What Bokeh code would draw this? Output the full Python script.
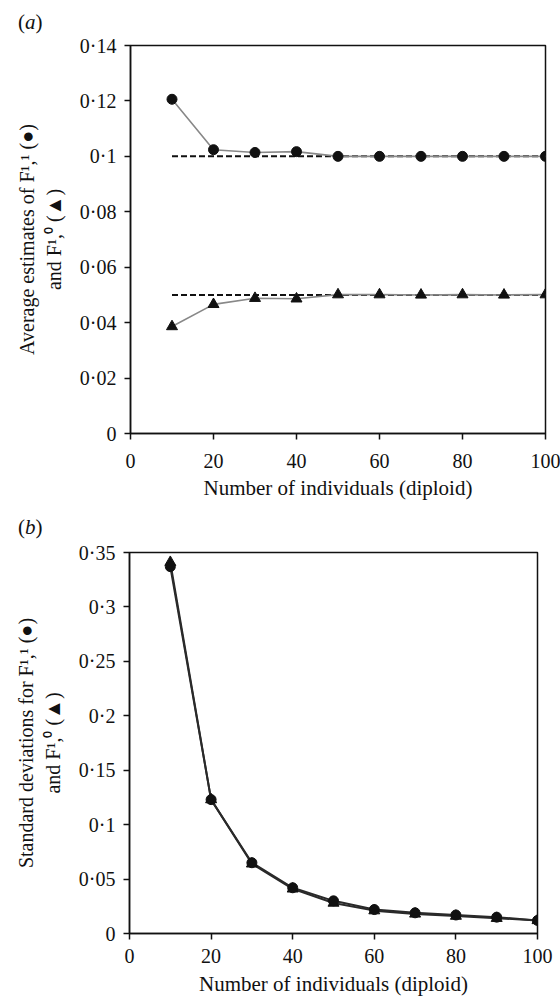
from bokeh.plotting import figure
from bokeh.layouts import column
from bokeh.models import FixedTicker, Range1d, Div
from bokeh.embed import file_html
from bokeh.resources import INLINE

# ---------------- data ----------------
n_individuals = [10, 20, 30, 40, 50, 60, 70, 80, 90, 100]

# panel (a): average estimates
avg_f11 = [0.1206, 0.1024, 0.1014, 0.1017, 0.1000, 0.1000, 0.1000, 0.1000, 0.1000, 0.1000]
avg_f10 = [0.0386, 0.0466, 0.0488, 0.0486, 0.0501, 0.0501, 0.0500, 0.0501, 0.0500, 0.0501]
true_f11 = [0.1, 0.1]
true_f10 = [0.05, 0.05]
true_x = [10, 100]

# panel (b): standard deviations
sd_f11 = [0.337, 0.123, 0.065, 0.042, 0.030, 0.022, 0.019, 0.017, 0.015, 0.012]
sd_f10 = [0.341, 0.123, 0.064, 0.041, 0.028, 0.021, 0.018, 0.016, 0.014, 0.012]

x_ticks = [0, 20, 40, 60, 80, 100]
a_y_ticks = [0, 0.02, 0.04, 0.06, 0.08, 0.1, 0.12, 0.14]
a_y_labels = ["0", "0·02", "0·04", "0·06", "0·08", "0·1", "0·12", "0·14"]
b_y_ticks = [0, 0.05, 0.1, 0.15, 0.2, 0.25, 0.3, 0.35]
b_y_labels = ["0", "0·05", "0·1", "0·15", "0·2", "0·25", "0·3", "0·35"]

x_title = "Number of individuals (diploid)"
a_y_title = "Average estimates of F¹,¹ (●)\nand F¹,⁰ (▲)"
b_y_title = "Standard deviations for F¹,¹ (●)\nand F¹,⁰ (▲)"
a_panel = "(<i>a</i>)"
b_panel = "(<i>b</i>)"

FONT = "Liberation Serif"
INK = "#111111"


def panel_div(text):
    return Div(text=text, width=80, height=24, margin=(10, 0, 0, 18),
               styles={"font-family": FONT, "font-size": "21px", "line-height": "24px",
                       "color": INK})


def style(p, yticks, ylabels, ytitle, lab_standoff, title_standoff):
    p.xgrid.visible = False
    p.ygrid.visible = False
    p.outline_line_color = INK
    p.outline_line_width = 1.5
    p.background_fill_color = "white"
    p.border_fill_color = "white"
    for ax in (p.xaxis[0], p.yaxis[0]):
        ax.axis_line_color = INK
        ax.axis_line_width = 1.5
        ax.major_tick_line_color = INK
        ax.major_tick_line_width = 1.5
        ax.major_tick_in = 0
        ax.major_tick_out = 6
        ax.minor_tick_line_color = None
        ax.major_label_text_font = FONT
        ax.major_label_text_font_size = "20px"
        ax.major_label_text_color = INK
        ax.axis_label_text_font = FONT
        ax.axis_label_text_font_style = "normal"
        ax.axis_label_text_color = INK
    p.xaxis[0].ticker = FixedTicker(ticks=x_ticks)
    p.xaxis[0].axis_label = x_title
    p.xaxis[0].axis_label_text_font_size = "21px"
    p.xaxis[0].major_label_standoff = lab_standoff
    p.xaxis[0].axis_label_standoff = title_standoff
    p.yaxis[0].ticker = FixedTicker(ticks=yticks)
    p.yaxis[0].major_label_overrides = dict(zip(yticks, ylabels))
    p.yaxis[0].axis_label = ytitle
    p.yaxis[0].axis_label_text_font_size = "20px"
    p.yaxis[0].major_label_standoff = 8
    p.yaxis[0].axis_label_standoff = 12


# ---------------- panel (a) ----------------
pa = figure(width=560, height=471, output_backend="svg", toolbar_location=None,
            x_range=Range1d(0, 100), y_range=Range1d(0, 0.14),
            min_border_left=130, min_border_right=15, min_border_top=11, min_border_bottom=72)
style(pa, a_y_ticks, a_y_labels, a_y_title, 14, 5)
pa.line(true_x, true_f11, line_color=INK, line_width=2, line_dash="6 3")
pa.line(true_x, true_f10, line_color=INK, line_width=2, line_dash="6 3")
pa.line(n_individuals, avg_f11, line_color="#888888", line_width=1.6)
pa.line(n_individuals, avg_f10, line_color="#888888", line_width=1.6)
pa.scatter(n_individuals, avg_f11, marker="circle", size=10, fill_color="#111111", line_color="#111111")
pa.scatter(n_individuals, avg_f10, marker="triangle", size=11, fill_color="#111111", line_color="#111111")

# ---------------- panel (b) ----------------
pb = figure(width=560, height=460, output_backend="svg", toolbar_location=None,
            x_range=Range1d(0, 100), y_range=Range1d(0, 0.35),
            min_border_left=129, min_border_right=23, min_border_top=13, min_border_bottom=66)
style(pb, b_y_ticks, b_y_labels, b_y_title, 9, 6)
pb.line(n_individuals, sd_f10, line_color="#2a2a2a", line_width=2)
pb.line(n_individuals, sd_f11, line_color="#2a2a2a", line_width=2)
pb.scatter(n_individuals, sd_f10, marker="triangle", size=11, fill_color="#111111", line_color="#111111")
pb.scatter(n_individuals, sd_f11, marker="circle", size=10, fill_color="#111111", line_color="#111111")

roots = [column(panel_div(a_panel), pa, spacing=0), column(panel_div(b_panel), pb, spacing=0)]
open("out.html", "w").write(file_html(roots, INLINE))
